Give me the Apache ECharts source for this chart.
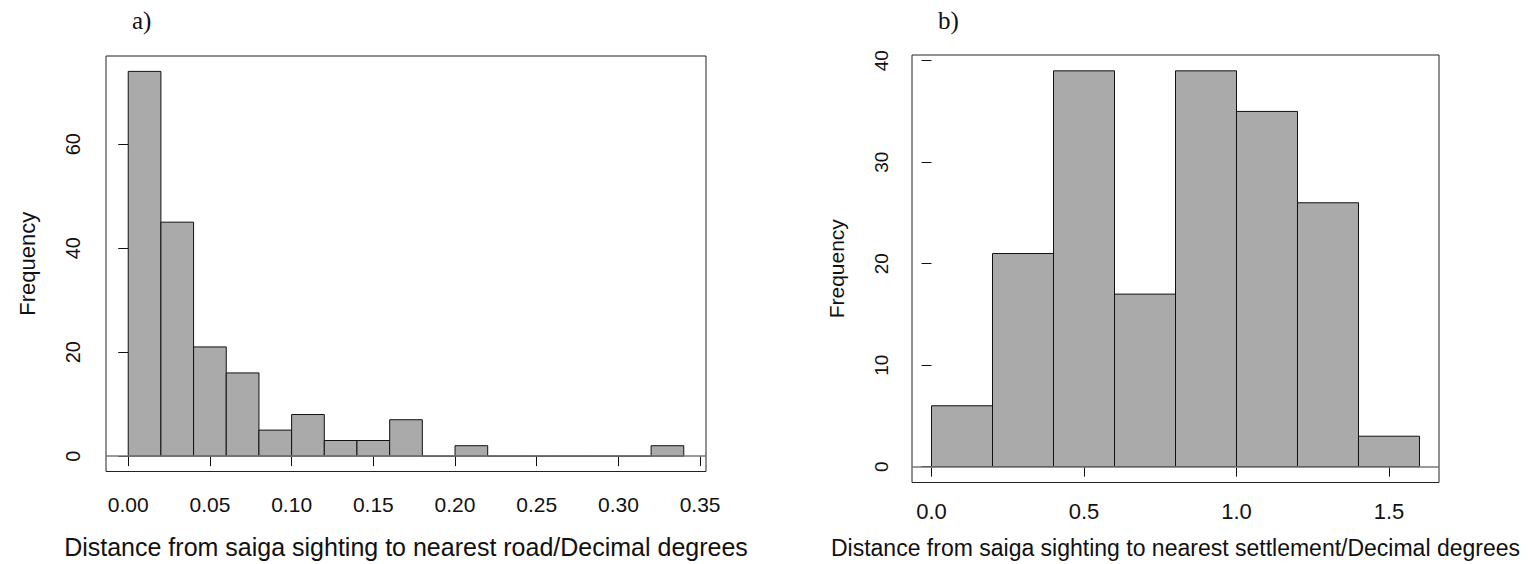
<!DOCTYPE html>
<html>
<head>
<meta charset="utf-8">
<script src="https://cdn.jsdelivr.net/npm/echarts@6/dist/echarts.min.js"></script>
<style>
  html, body { margin: 0; padding: 0; background: #fff; }
  #chart { width: 1528px; height: 564px; }
</style>
</head>
<body>
<div id="chart"></div>
<script>
// a) distance to nearest road
var roadEdges = [0, 0.02, 0.04, 0.06, 0.08, 0.10, 0.12, 0.14, 0.16, 0.18, 0.20, 0.22, 0.24, 0.26, 0.28, 0.30, 0.32, 0.34];
var roadCounts = [74, 45, 21, 16, 5, 8, 3, 3, 7, 0, 2, 0, 0, 0, 0, 0, 2];
var roadXTicks = [0, 0.05, 0.10, 0.15, 0.20, 0.25, 0.30, 0.35];
var roadYTicks = [0, 20, 40, 60];

// b) distance to nearest settlement
var settEdges = [0, 0.2, 0.4, 0.6, 0.8, 1.0, 1.2, 1.4, 1.6];
var settCounts = [6, 21, 39, 17, 39, 35, 26, 3];
var settXTicks = [0, 0.5, 1.0, 1.5];
var settYTicks = [0, 10, 20, 30, 40];

var font = 'Liberation Sans, Arial, sans-serif';

function bins(edges, counts) {
  var out = [];
  for (var i = 0; i < counts.length; i++) out.push([edges[i], edges[i + 1], counts[i]]);
  return out;
}

// R-style range: data range padded 4% each side
function pad(lo, hi) {
  var d = (hi - lo) * 0.04;
  return [lo - d, hi + d];
}

function renderBar(params, api) {
  var p0 = api.coord([api.value(0), 0]);
  var p1 = api.coord([api.value(1), api.value(2)]);
  return {
    type: 'rect',
    shape: { x: p0[0], y: p1[1], width: p1[0] - p0[0], height: p0[1] - p1[1] },
    style: { fill: '#aaaaaa', stroke: '#111', lineWidth: 1 }
  };
}

function xAxisFor(idx, edges, ticks, name, fs, nfs, margin, gap, fmt) {
  var r = pad(edges[0], edges[edges.length - 1]);
  return {
    type: 'value', gridIndex: idx, min: r[0], max: r[1],
    axisLine: { show: false },
    splitLine: { show: false },
    axisTick: { show: true, customValues: ticks, length: 10, lineStyle: { color: '#111' } },
    axisLabel: { customValues: ticks, margin: margin, color: '#111', fontSize: fs, fontFamily: font, formatter: fmt },
    name: name, nameLocation: 'middle', nameGap: gap,
    nameTextStyle: { color: '#111', fontSize: nfs, fontFamily: font, verticalAlign: 'middle' }
  };
}

function yAxisFor(idx, counts, ticks, fs, nfs, margin, gap) {
  var r = pad(0, Math.max.apply(null, counts));
  return {
    type: 'value', gridIndex: idx, min: r[0], max: r[1],
    axisLine: { show: false },
    splitLine: { show: false },
    axisTick: { show: true, customValues: ticks, length: 10, lineStyle: { color: '#111' } },
    axisLabel: { customValues: ticks, rotate: 90, margin: margin, color: '#111', fontSize: fs, fontFamily: font },
    name: 'Frequency', nameLocation: 'middle', nameGap: gap, nameRotate: 90,
    nameTextStyle: { color: '#111', fontSize: nfs, fontFamily: font, verticalAlign: 'middle' }
  };
}

var chart = echarts.init(document.getElementById('chart'), null, { renderer: 'svg' });
chart.setOption({
  animation: false,
  backgroundColor: '#fff',
  title: [
    { text: 'a)', left: 127, top: 3, textStyle: { fontFamily: 'Liberation Serif, serif', fontWeight: 'normal', fontSize: 25, color: '#111' } },
    { text: 'b)', left: 933, top: 3, textStyle: { fontFamily: 'Liberation Serif, serif', fontWeight: 'normal', fontSize: 25, color: '#111' } }
  ],
  grid: [
    { left: 106, top: 56, width: 600, height: 417, show: true, borderColor: '#222', borderWidth: 1, backgroundColor: 'transparent' },
    { left: 912, top: 55, width: 527, height: 428, show: true, borderColor: '#222', borderWidth: 1, backgroundColor: 'transparent' }
  ],
  xAxis: [
    xAxisFor(0, roadEdges, roadXTicks, 'Distance from saiga sighting to nearest road/Decimal degrees', 21, 25, 22, 75,
      function(v) { return v.toFixed(2); }),
    xAxisFor(1, settEdges, settXTicks, 'Distance from saiga sighting to nearest settlement/Decimal degrees', 22, 23, 18, 65,
      function(v) { return v.toFixed(1); })
  ],
  yAxis: [
    yAxisFor(0, roadCounts, roadYTicks, 20, 22, 23, 79),
    yAxisFor(1, settCounts, settYTicks, 19, 21, 21, 76)
  ],
  series: [
    {
      type: 'custom', xAxisIndex: 0, yAxisIndex: 0, renderItem: renderBar,
      encode: { x: [0, 1], y: 2 }, data: bins(roadEdges, roadCounts),
      markLine: { silent: true, symbol: 'none', label: { show: false }, lineStyle: { color: '#777', type: 'solid', width: 1.5 }, data: [{ yAxis: 0 }] }
    },
    {
      type: 'custom', xAxisIndex: 1, yAxisIndex: 1, renderItem: renderBar,
      encode: { x: [0, 1], y: 2 }, data: bins(settEdges, settCounts),
      markLine: { silent: true, symbol: 'none', label: { show: false }, lineStyle: { color: '#777', type: 'solid', width: 1.5 }, data: [{ yAxis: 0 }] }
    }
  ]
});
</script>
</body>
</html>
